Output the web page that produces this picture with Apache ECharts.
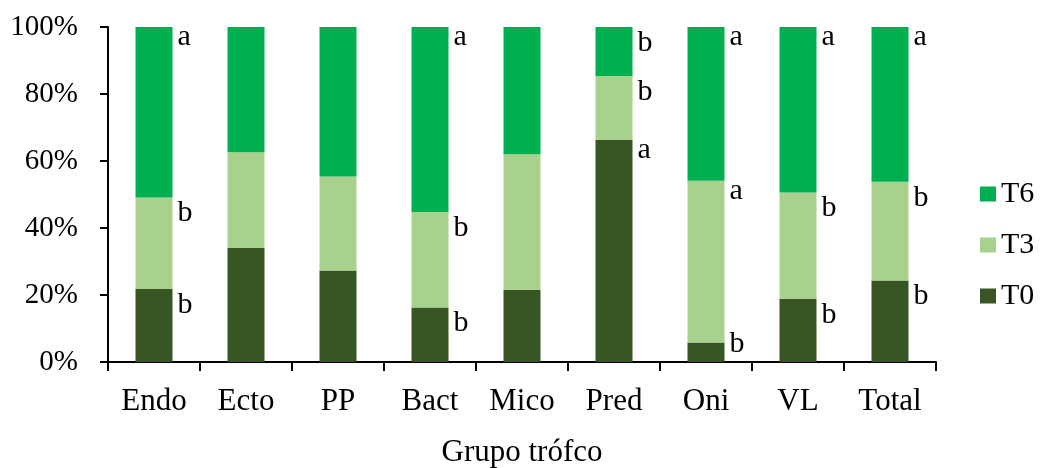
<!DOCTYPE html>
<html>
<head>
<meta charset="utf-8">
<script src="https://cdn.jsdelivr.net/npm/echarts@6/dist/echarts.min.js"></script>
<style>
  html, body { margin: 0; padding: 0; background: #ffffff; }
  #chart { width: 1040px; height: 468px; }
</style>
</head>
<body>
<div id="chart"></div>
<script>
// Trophic groups on the category axis
const categories = ['Endo', 'Ecto', 'PP', 'Bact', 'Mico', 'Pred', 'Oni', 'VL', 'Total'];

// Share of each sampling time (%), stacked to 100 per group
const t0Values = [21.8, 34.0, 27.3, 16.3, 21.6, 66.3, 5.8, 18.9, 24.3];
const t3Values = [27.3, 28.6, 28.1, 28.5, 40.4, 19.1, 48.3, 31.7, 29.5];
const t6Values = [50.9, 37.4, 44.6, 55.2, 38.0, 14.6, 45.9, 49.4, 46.2];

// Significance letters written beside each segment ('' = none)
const t0Letters = ['b', '', '', 'b', '', 'a', 'b', 'b', 'b'];
const t3Letters = ['b', '', '', 'b', '', 'b', 'a', 'b', 'b'];
const t6Letters = ['a', '', '', 'a', '', 'b', 'a', 'a', 'a'];

const FONT = '"Liberation Serif", "Times New Roman", serif';
const colors = { T0: '#385623', T3: '#A9D18E', T6: '#00B050' };

// Letter label sitting just right of a segment's top edge
function withLetters(values, letters) {
  return values.map((v, i) => {
    const letter = letters[i];
    if (!letter) return { value: v };
    // 'a' has no ascender, so lift it to line its top up with the 'b's;
    // a thin segment pushes its letter up so it stays above the axis
    let dy = letter === 'a' ? -5 : 1;
    if (v < 8) dy -= 14;
    return {
      value: v,
      label: {
        show: true,
        formatter: letter,
        position: ['100%', 0],
        align: 'left',
        verticalAlign: 'top',
        offset: [5, dy],
        color: '#000',
        fontFamily: FONT,
        fontSize: 30
      }
    };
  });
}

function barSeries(name, values, letters) {
  return {
    name: name,
    type: 'bar',
    stack: 'total',
    barWidth: 37,
    itemStyle: { color: colors[name] },
    data: withLetters(values, letters),
    emphasis: { disabled: true }
  };
}

const chart = echarts.init(document.getElementById('chart'), null, { renderer: 'canvas' });
chart.setOption({
  animation: false,
  backgroundColor: '#ffffff',
  textStyle: { fontFamily: FONT },
  grid: {
    left: 108, right: 104, top: 27, bottom: 106,
    containLabel: false,
    outerBoundsMode: 'none'
  },
  legend: {
    orient: 'vertical',
    left: 980,
    top: 179,
    padding: 0,
    itemWidth: 16,
    itemHeight: 15,
    itemGap: 21,
    icon: 'rect',
    selectedMode: false,
    data: ['T6', 'T3', 'T0'],
    textStyle: { fontFamily: FONT, fontSize: 30, color: '#000' }
  },
  xAxis: {
    type: 'category',
    data: categories,
    name: 'Grupo trófco',
    nameLocation: 'middle',
    nameGap: 75,
    nameTextStyle: { fontFamily: FONT, fontSize: 31, color: '#000' },
    axisLine: { lineStyle: { color: '#000', width: 2 } },
    axisTick: { show: true, length: 9, lineStyle: { color: '#000', width: 2 } },
    axisLabel: { margin: 24, fontFamily: FONT, fontSize: 31, color: '#000' }
  },
  yAxis: {
    type: 'value',
    min: 0,
    max: 100,
    interval: 20,
    axisLine: { show: true, lineStyle: { color: '#000', width: 2 } },
    axisTick: { show: true, length: 8, lineStyle: { color: '#000', width: 2 } },
    splitLine: { show: false },
    axisLabel: {
      formatter: '{value}%',
      margin: 30,
      fontFamily: FONT,
      fontSize: 29,
      color: '#000'
    }
  },
  series: [
    barSeries('T0', t0Values, t0Letters),
    barSeries('T3', t3Values, t3Letters),
    barSeries('T6', t6Values, t6Letters)
  ]
});
</script>
</body>
</html>
